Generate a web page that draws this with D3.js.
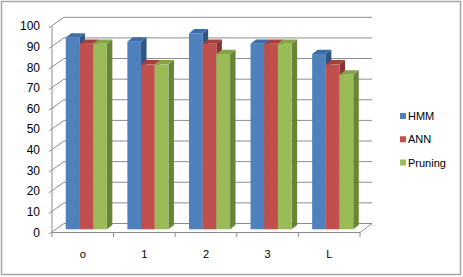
<!DOCTYPE html>
<html>
<head>
<meta charset="utf-8">
<script src="https://cdn.jsdelivr.net/npm/d3@7/dist/d3.min.js"></script>
<style>
  html, body { margin: 0; padding: 0; background: #fff; }
  svg { display: block; }
</style>
</head>
<body>
<svg id="chart" width="463" height="277"></svg>
<script>
// ---- data ----
const categories = ["o", "1", "2", "3", "L"];
const seriesNames = ["HMM", "ANN", "Pruning"];
const hmm = [93, 91, 95, 90, 85];
const ann = [90, 80, 90, 90, 80];
const pruning = [90, 80, 85, 90, 75];
const yTicks = [0, 10, 20, 30, 40, 50, 60, 70, 80, 90, 100];
const seriesValues = [hmm, ann, pruning];

// ---- styles ----
const frontColors = ["#4F81BD", "#C0504D", "#9BBB59"];
const topColors = ["#3d6cab", "#a6403d", "#84a446"];
const sideColors = ["#2f5584", "#863331", "#68833a"];
const gridColor = "#8c8c8c";
const font = "'Liberation Sans', Arial, sans-serif";

const svg = d3.select("#chart");

// outer border
svg.append("rect")
  .attr("x", 1.5).attr("y", 1.5).attr("width", 459).attr("height", 273)
  .attr("fill", "#fff").attr("stroke", "#a6a6a6").attr("stroke-width", 1.5);

// ---- scales ----
const x = d3.scaleBand().domain(categories).range([52, 360]).padding(0);
const y = d3.scaleLinear().domain([0, 100]).range([232.5, 26.3]);
const depthX = 12, depthY = -9;      // wall depth
const planeX = 3.5, planeY = -3.2;   // bar front plane
const barDX = 5.5, barDY = -4.3;     // bar depth
const clusterW = x.bandwidth() * 0.667;
const xs = d3.scaleBand().domain(seriesNames).range([0, clusterW]).padding(0);

const g = svg.append("g");

// back wall gridlines
g.selectAll("line.grid").data(yTicks).join("line")
  .attr("x1", x.range()[0] + depthX).attr("x2", x.range()[1] + depthX)
  .attr("y1", d => y(d) + depthY).attr("y2", d => y(d) + depthY)
  .attr("stroke", gridColor).attr("stroke-width", 1);

// side wall gridlines (diagonals)
g.selectAll("line.side").data(yTicks).join("line")
  .attr("x1", x.range()[0] - 3).attr("y1", d => y(d) + 1.5)
  .attr("x2", x.range()[0] + depthX).attr("y2", d => y(d) + depthY)
  .attr("stroke", gridColor).attr("stroke-width", 1);

// vertical axis line
g.append("line")
  .attr("x1", x.range()[0]).attr("x2", x.range()[0])
  .attr("y1", y(0)).attr("y2", y(100))
  .attr("stroke", gridColor).attr("stroke-width", 1);

// floor front edge and right edge
g.append("line")
  .attr("x1", x.range()[0]).attr("x2", x.range()[1])
  .attr("y1", y(0)).attr("y2", y(0))
  .attr("stroke", gridColor).attr("stroke-width", 1);
g.append("line")
  .attr("x1", x.range()[1]).attr("x2", x.range()[1] + depthX)
  .attr("y1", y(0)).attr("y2", y(0) + depthY)
  .attr("stroke", gridColor).attr("stroke-width", 1);

// category ticks
const tickXs = categories.map(c => x(c)).concat([x.range()[1]]);
g.selectAll("line.ctick").data(tickXs).join("line")
  .attr("x1", d => d).attr("x2", d => d)
  .attr("y1", y(0)).attr("y2", y(0) + 4.5)
  .attr("stroke", gridColor).attr("stroke-width", 1);

// y labels
g.selectAll("text.ylab").data(yTicks).join("text")
  .attr("x", 40).attr("y", d => y(d))
  .attr("text-anchor", "end").attr("dominant-baseline", "central")
  .attr("font-family", font).attr("font-size", 12).attr("fill", "#000")
  .text(d => d);

// category labels
g.selectAll("text.xlab").data(categories).join("text")
  .attr("x", d => x(d) + x.bandwidth() / 2).attr("y", 254)
  .attr("text-anchor", "middle").attr("dominant-baseline", "central")
  .attr("font-family", font).attr("font-size", 11).attr("fill", "#000")
  .text(d => d);

// bars
const bars = g.append("g");
categories.forEach((cat, ci) => {
  seriesNames.forEach((s, si) => {
    const v = seriesValues[si][ci];
    const x0 = x(cat) + (x.bandwidth() - clusterW) / 2 + planeX + xs(s);
    const w = xs.bandwidth();
    const yt = y(v) + planeY;
    const yb = y(0) + planeY;
    const bg = bars.append("g");
    // side
    bg.append("polygon")
      .attr("points", [[x0 + w, yt], [x0 + w + barDX, yt + barDY], [x0 + w + barDX, yb + barDY], [x0 + w, yb]].map(p => p.join(",")).join(" "))
      .attr("fill", sideColors[si]);
    // top
    bg.append("polygon")
      .attr("points", [[x0, yt], [x0 + w, yt], [x0 + w + barDX, yt + barDY], [x0 + barDX, yt + barDY]].map(p => p.join(",")).join(" "))
      .attr("fill", topColors[si]);
    // front
    bg.append("rect")
      .attr("x", x0).attr("y", yt).attr("width", w).attr("height", yb - yt)
      .attr("fill", frontColors[si]);
  });
});

// legend
const legendY = d3.scalePoint().domain(seriesNames).range([116, 162.5]);
const lg = svg.append("g");
lg.selectAll("rect").data(seriesNames).join("rect")
  .attr("x", 400).attr("y", d => legendY(d) - 3).attr("width", 6).attr("height", 6)
  .attr("fill", (d, i) => frontColors[i]);
lg.selectAll("text").data(seriesNames).join("text")
  .attr("x", 408).attr("y", d => legendY(d))
  .attr("dominant-baseline", "central")
  .attr("font-family", font).attr("font-size", 11).attr("fill", "#000")
  .text(d => d);
</script>
</body>
</html>
